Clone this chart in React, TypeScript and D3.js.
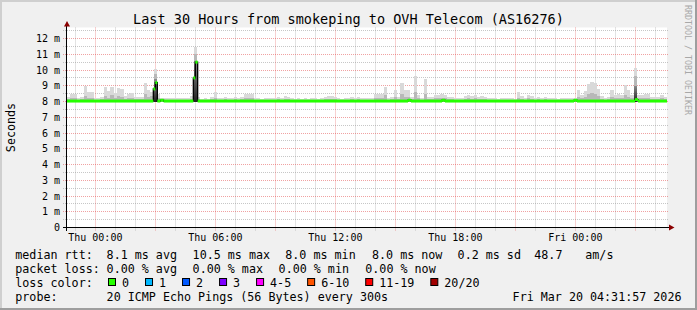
import React from 'react';
import * as d3 from 'd3';

const W = 697;
const H = 310;

// time window (UTC) and 10-minute smoke bins
const startTime = new Date(Date.UTC(2026, 2, 18, 22, 35));
const endTime = new Date(Date.UTC(2026, 2, 20, 4, 35));
const binMinutes = 10;
const minRtt = 7.98; // ms, lowest ping

// smoke: highest ping per bin (ms)
const smokeTop = [
  8.3, 8.5, 8.5, 8.2, 8.3, 9.0, 8.6, 8.6, 8.25, 8.25, 8.3, 8.9, 8.65, 8.95, 8.55, 8.85, 8.8, 8.35,
  8.45, 8.55, 8.3, 8.3, 8.3, 9.2, 8.7, 8.6, 10.05, 8.5, 8.2, 8.2, 8.25, 8.2, 8.25, 8.2, 8.25, 8.2,
  8.2, 8.35, 11.45, 8.3, 8.15, 8.2, 8.15, 8.3, 8.6, 8.2, 8.25, 8.3, 8.25, 8.2, 8.3, 8.25, 8.3, 8.5,
  8.5, 8.45, 8.2, 8.2, 8.15, 8.2, 8.25, 8.2, 8.2, 8.3, 8.2, 8.35, 8.3, 8.2, 8.15, 8.2, 8.15, 8.2,
  8.15, 8.2, 8.2, 8.15, 8.2, 8.3, 8.35, 8.35, 8.3, 8.2, 8.15, 8.2, 8.2, 8.3, 8.25, 8.3, 8.2, 8.2,
  8.2, 8.25, 8.45, 8.45, 8.5, 8.95, 8.2, 8.3, 8.7, 8.3, 9.15, 8.7, 8.7, 8.3, 9.65, 8.4, 8.25, 9.4,
  8.3, 8.3, 8.4, 8.4, 8.45, 8.4, 8.3, 8.3, 8.2, 8.25, 8.2, 8.35, 8.4, 8.35, 8.4, 8.3, 8.35, 8.3,
  8.25, 8.2, 8.25, 8.15, 8.2, 8.2, 8.25, 8.2, 8.15, 8.6, 8.35, 8.2, 8.4, 8.35, 8.2, 8.3, 8.25, 8.3,
  8.25, 8.2, 8.2, 8.15, 8.2, 8.25, 8.2, 8.25, 8.2, 8.7, 8.4, 8.65, 9.1, 9.25, 9.2, 8.8, 8.35, 8.25,
  8.3, 8.75, 8.4, 8.45, 8.4, 9.05, 8.75, 8.4, 10.1, 8.4, 8.4, 8.5, 8.5, 8.3, 8.3, 8.3, 8.4, 8.3,
];

// smoke: inner (denser) band per bin (ms)
const smokeMid = [
  8.15, 8.2, 8.25, 8.1, 8.15, 8.35, 8.25, 8.25, 8.1, 8.1, 8.15, 8.35, 8.25, 8.4, 8.2, 8.35, 8.3, 8.15,
  8.2, 8.25, 8.15, 8.15, 8.15, 8.5, 8.3, 8.35, 9.75, 8.25, 8.1, 8.1, 8.1, 8.1, 8.1, 8.1, 8.1, 8.1,
  8.1, 8.15, 11.0, 8.15, 8.1, 8.1, 8.1, 8.15, 8.25, 8.1, 8.1, 8.15, 8.1, 8.1, 8.15, 8.1, 8.15, 8.25,
  8.25, 8.2, 8.1, 8.1, 8.1, 8.1, 8.1, 8.1, 8.1, 8.15, 8.1, 8.15, 8.15, 8.1, 8.1, 8.1, 8.1, 8.1,
  8.1, 8.1, 8.1, 8.1, 8.1, 8.15, 8.15, 8.15, 8.15, 8.1, 8.1, 8.1, 8.1, 8.15, 8.1, 8.15, 8.1, 8.1,
  8.1, 8.1, 8.2, 8.2, 8.25, 8.4, 8.1, 8.15, 8.3, 8.15, 8.5, 8.3, 8.3, 8.15, 8.6, 8.2, 8.1, 8.5,
  8.15, 8.15, 8.2, 8.2, 8.2, 8.2, 8.15, 8.15, 8.1, 8.1, 8.1, 8.15, 8.2, 8.15, 8.2, 8.15, 8.15, 8.15,
  8.1, 8.1, 8.1, 8.1, 8.1, 8.1, 8.1, 8.1, 8.1, 8.25, 8.15, 8.1, 8.2, 8.15, 8.1, 8.15, 8.1, 8.15,
  8.1, 8.1, 8.1, 8.1, 8.1, 8.1, 8.1, 8.1, 8.1, 8.3, 8.2, 8.3, 8.45, 8.55, 8.5, 8.35, 8.15, 8.1,
  8.15, 8.3, 8.2, 8.2, 8.2, 8.4, 8.3, 8.2, 9.6, 8.2, 8.2, 8.25, 8.25, 8.15, 8.15, 8.15, 8.2, 8.15,
];

// bins where the smoke core is dark, and its height (ms)
const darkBins = [26, 38, 170];
const darkTop = [9.4, 10.6, 9.0];

// median rtt as a step function: minutes after start -> ms
const medianStepMinutes = [0, 259, 265, 271, 280, 290, 379, 385, 392, 1023, 1032, 1125, 1134, 1521, 1530, 1704, 1713];
const medianStepValues = [8.03, 8.8, 9.2, 8.03, 8.08, 8.03, 9.5, 10.5, 8.03, 8.08, 8.03, 8.08, 8.03, 8.08, 8.03, 8.12, 8.03];

const yTickValues = [0, 1, 2, 3, 4, 5, 6, 7, 8, 9, 10, 11, 12];
const yTickLabels = ['0', '1 m', '2 m', '3 m', '4 m', '5 m', '6 m', '7 m', '8 m', '9 m', '10 m', '11 m', '12 m'];

const title = 'Last 30 Hours from smokeping to OVH Telecom (AS16276)';

const legendRow1 = ['median rtt:', '8.1 ms avg', '10.5 ms max', '8.0 ms min', '8.0 ms now', '0.2 ms sd', '48.7', 'am/s'];
const legendRow1X = [15.3, 106.6, 192.6, 285.3, 372, 457.6, 534.3, 585.3];
const legendRow2 = ['packet loss:', '0.00 % avg', '0.00 % max', '0.00 % min', '0.00 % now'];
const legendRow2X = [15.3, 106.6, 192.6, 278.6, 365.3];
const lossLabels = ['0', '1', '2', '3', '4-5', '6-10', '11-19', '20/20'];
const lossColors = ['#26ff00', '#00b8ff', '#0059ff', '#7e00ff', '#ff00ff', '#ff5500', '#ff0000', '#a10000'];
const probeText = '20 ICMP Echo Pings (56 Bytes) every 300s';
const stampText = 'Fri Mar 20 04:31:57 2026';

const MONO = '"DejaVu Sans Mono", monospace';

export default function App() {
  const x = d3.scaleUtc().domain([startTime, endTime]).range([67, 667]);
  const y = d3.scaleLinear().domain([0, 12.7]).range([227.5, 27.5]);
  const plotTop = 27.5;
  const plotBottom = y(0);
  const crisp = (v: number) => Math.round(v - 0.5) + 0.5;

  const minorX = d3.utcHour.every(1)!.range(startTime, endTime);
  const majorX = d3.utcHour.every(3)!.range(startTime, endTime);
  const labelX = d3.utcHour.every(6)!.range(startTime, endTime);
  const fmt = d3.utcFormat('%a %H:%M');
  const majorSet = new Set(majorX.map((d) => +d));

  const yMinor = d3.range(0.5, 12.7, 0.5).filter((v) => !yTickValues.includes(v));

  const binTime = (i: number) => d3.utcMinute.offset(startTime, i * binMinutes);

  const medianPts = medianStepMinutes.map((m, i) => [d3.utcMinute.offset(startTime, m), medianStepValues[i]] as [Date, number]);
  const medianLinePts = [...medianPts, [endTime, medianStepValues[medianStepValues.length - 1]] as [Date, number]];
  const medianLine = d3
    .line<[Date, number]>()
    .x((d) => x(d[0]))
    .y((d) => y(d[1]))
    .curve(d3.curveStepAfter);

  // loss legend positions
  const charW = 7.02;
  let lx = 108;
  const lossItems = lossLabels.map((lab, i) => {
    const item = { lab, color: lossColors[i], bx: lx };
    lx = lx + 14 + lab.length * charW + 16;
    return item;
  });

  return (
    <div style={{ position: 'absolute', left: 0, top: 0 }}>
      <svg width={W} height={H} style={{ display: 'block' }} fontFamily={MONO}>
        <defs>
          <linearGradient id="core" x1="0" y1="1" x2="0" y2="0">
            <stop offset="0" stopColor="#202020" />
            <stop offset="1" stopColor="#8a8a8a" />
          </linearGradient>
        </defs>
        <rect x={0} y={0} width={W} height={H} fill="#f0f0f0" />
        {/* frame shading */}
        <rect x={0} y={0} width={W} height={2} fill="#cfcfcf" />
        <rect x={0} y={0} width={2} height={H} fill="#cfcfcf" />
        <rect x={0} y={H - 2} width={W} height={2} fill="#9e9e9e" />
        <rect x={W - 2} y={0} width={2} height={H} fill="#9e9e9e" />

        {/* canvas */}
        <rect x={67} y={plotTop} width={600} height={plotBottom - plotTop} fill="#ffffff" />

        {/* grid */}
        <g strokeWidth={1} strokeDasharray="1,1" fill="none">
          {yMinor.map((v) => (
            <line key={'ym' + v} x1={63} x2={668} y1={crisp(y(v))} y2={crisp(y(v))} stroke="rgba(143,143,143,0.5)" />
          ))}
          {minorX.filter((d) => !majorSet.has(+d)).map((d) => (
            <line key={'xm' + +d} x1={crisp(x(d))} x2={crisp(x(d))} y1={plotTop} y2={231} stroke="rgba(143,143,143,0.5)" />
          ))}
          {yTickValues.map((v) => (
            <line key={'yM' + v} x1={63} x2={668} y1={crisp(y(v))} y2={crisp(y(v))} stroke="rgba(222,48,48,0.45)" />
          ))}
          {majorX.map((d) => (
            <line key={'xM' + +d} x1={crisp(x(d))} x2={crisp(x(d))} y1={plotTop} y2={231} stroke="rgba(222,48,48,0.45)" />
          ))}
        </g>

        {/* smoke */}
        <g shapeRendering="crispEdges">
          {smokeTop.map((v, i) => (
            <rect key={'st' + i} x={x(binTime(i))} width={x(binTime(i + 1)) - x(binTime(i))} y={y(v)} height={y(minRtt) - y(v)} fill="#d9d9d9" />
          ))}
          {smokeMid.map((v, i) => (
            <rect key={'sm' + i} x={x(binTime(i))} width={x(binTime(i + 1)) - x(binTime(i))} y={y(v)} height={y(minRtt) - y(v)} fill="#b8b8b8" />
          ))}
          {darkBins.map((b, i) => (
            <rect key={'sd' + i} x={x(binTime(b))} width={x(binTime(b + 1)) - x(binTime(b))} y={y(darkTop[i])} height={y(minRtt) - y(darkTop[i])} fill="url(#core)" />
          ))}
        </g>

        {/* median */}
        <path d={medianLine(medianLinePts) || ''} fill="none" stroke="#000" strokeWidth={1.3} />
        {medianPts.map((p, i) => {
          const t1 = i + 1 < medianPts.length ? medianPts[i + 1][0] : endTime;
          return <rect key={'md' + i} x={x(p[0])} width={x(t1) - x(p[0])} y={y(p[1]) - 1.5} height={3} fill="#26ff00" />;
        })}

        {/* axes */}
        <line x1={63} x2={670} y1={crisp(plotBottom)} y2={crisp(plotBottom)} stroke="#000" />
        <line x1={66.5} x2={66.5} y1={25} y2={231} stroke="#000" />
        <path d="M67,21 L64,26.5 L70,26.5 Z" fill="#8b0000" />
        <path d="M674.5,227.5 L669,224.5 L669,230.5 Z" fill="#8b0000" />

        {/* y labels */}
        <g fontSize={10} textAnchor="end" fill="#000">
          {yTickValues.map((v, i) => (
            <text key={'yl' + v} x={60} y={y(v) + 3.6}>{yTickLabels[i]}</text>
          ))}
        </g>
        {/* x labels */}
        <g fontSize={10} textAnchor="middle" fill="#000">
          {labelX.map((d) => (
            <text key={'xl' + +d} x={x(d)} y={241}>{fmt(d)}</text>
          ))}
        </g>

        {/* title */}
        <text x={348.5} y={24} fontSize={13.5} textAnchor="middle" fill="#000">{title}</text>

        {/* axis title */}
        <text transform="translate(15.2,127.5) rotate(-90)" fontSize={11.7} textAnchor="middle" fill="#000">Seconds</text>

        {/* watermark */}
        <text transform="translate(685,5) rotate(90)" fontSize={8.3} fill="#a8a8a8">RRDTOOL / TOBI OETIKER</text>

        {/* legend */}
        <g fontSize={11.7} fill="#000">
          {legendRow1.map((s, i) => (
            <text key={'l1' + i} x={legendRow1X[i]} y={258.8}>{s}</text>
          ))}
          {legendRow2.map((s, i) => (
            <text key={'l2' + i} x={legendRow2X[i]} y={272.8}>{s}</text>
          ))}
          <text x={15.3} y={286.8}>loss color:</text>
          {lossItems.map((it) => (
            <g key={'lc' + it.lab}>
              <rect x={it.bx + 0.5} y={278.5} width={7} height={7} fill={it.color} stroke="#000" strokeWidth={1} />
              <text x={it.bx + 14} y={286.8}>{it.lab}</text>
            </g>
          ))}
          <text x={15.3} y={300.8}>probe:</text>
          <text x={106.6} y={300.8}>{probeText}</text>
          <text x={512.6} y={300.8}>{stampText}</text>
        </g>
      </svg>
    </div>
  );
}
